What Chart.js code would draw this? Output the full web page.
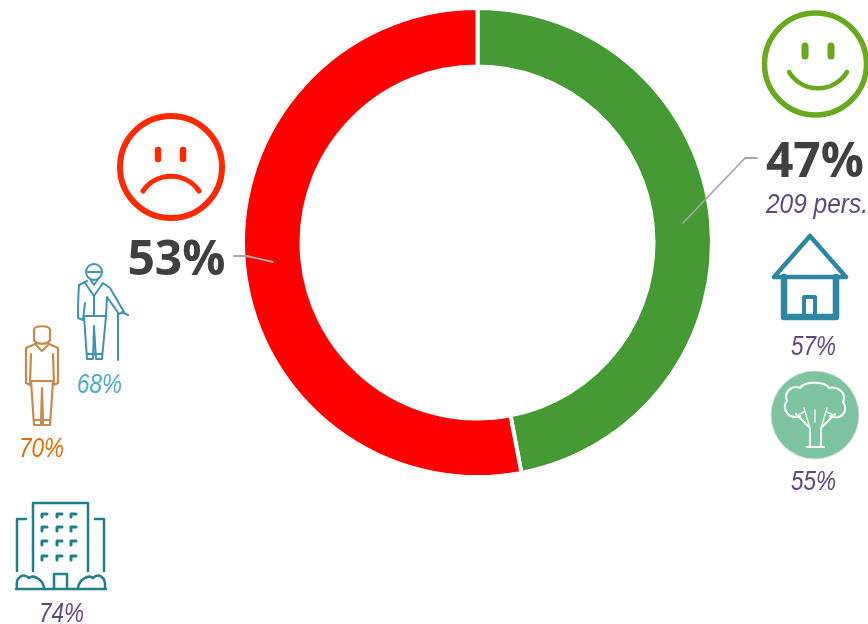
<!DOCTYPE html>
<html><head><meta charset="utf-8">
<style>
html,body{margin:0;padding:0;background:#fff;width:868px;height:624px;overflow:hidden}
#wrap{position:relative;width:868px;height:624px}
canvas{position:absolute;left:0;top:0}
svg{position:absolute;left:0;top:0}
.big{font:700 48px "Open Sans",sans-serif;fill:#404040}
.nar{font:italic 400 28px "Liberation Sans",sans-serif}
.soft{filter:blur(0.45px)}
</style>
<script src="https://cdn.jsdelivr.net/npm/chart.js@4"></script>
</head><body>
<div id="wrap">
<canvas id="c" width="868" height="624"></canvas>
<svg width="868" height="624" viewBox="0 0 868 624" fill="none" stroke-linecap="round" stroke-linejoin="round">
  <!-- leader lines -->
  <polyline points="683,223 745,158 757,158" stroke="#a6a6a6" stroke-width="1.8"/>
  <polyline points="234,256 247,256 273,262" stroke="#a6a6a6" stroke-width="1.8"/>
  <!-- sad -->
  <g stroke="#ff2a00">
    <circle cx="171" cy="167" r="51" stroke-width="6"/>
    <path d="M158 150V159M183 150V159" stroke-width="6.5"/>
    <path d="M143 191A34 34 0 0 1 199 191" stroke-width="5"/>
  </g>
  <!-- happy -->
  <g stroke="#6aa81e" class="soft">
    <circle cx="815.5" cy="64" r="51" stroke-width="5.5"/>
    <path d="M805 46V56M831 46V56" stroke-width="7"/>
    <path d="M789 72A34 34 0 0 0 847 72" stroke-width="4.5"/>
  </g>
  <!-- house -->
  <g stroke="#2e86a0" class="soft">
    <path d="M774 277L810 236L846 277Z" stroke-width="4.5"/>
    <path d="M784 277V317H836V277" stroke-width="6.5"/>
    <path d="M804 316V297H815V316" stroke-width="4"/>
  </g>
  <!-- tree -->
  <circle cx="815" cy="415" r="44" fill="#7fc4a0" stroke="#d8d8d8" stroke-width="1"/>
  <g stroke="#fff" stroke-width="2" class="soft">
    <path d="M800 416C788 420 781 408 787 401C783 391 793 385 800 388C804 381 825 381 829 388C838 386 847 393 843 402C849 410 842 421 830 416"/>
    <path d="M810 447V428L796 414M821 447V428L835 414M807 447H824" stroke-width="1.8"/>
    <path d="M810 428L804 408M821 428L827 408M815 410V422M804 412L796 416M827 412L835 416" stroke-width="1.6" stroke="#dfeee6"/>
  </g>
  <!-- building -->
  <g stroke="#1f8088" stroke-width="2.5" class="soft">
    <path d="M33 571V503H88V571"/>
    <path d="M17 571V519H26M104 571V519H95"/>
    <path d="M42 514V517M42 514H47M57 514V517M57 514H62M71 514V517M71 514H76M42 527V531M42 527H47M57 527V531M57 527H62M71 527V531M71 527H76M42 541V545M42 541H47M57 541V545M57 541H62M71 541V545M71 541H76M42 556V560M42 556H47M57 556V560M57 556H62M71 556V560M71 556H76" stroke-width="3"/>
    <path d="M16 589H106"/>
    <path d="M54 588V574H67V588"/>
    <path d="M17 588C15 576 24 573 29 578C34 574 43 580 44 588M78 588C79 580 88 574 93 578C98 573 106 576 105 588"/>
  </g>
  <!-- elderly person -->
  <g stroke="#3f93ad" stroke-width="2" class="soft">
    <circle cx="94" cy="272" r="8"/>
    <path d="M88 272H100M90 279L94 285L98 279"/>
    <path d="M87 281L79 285C78 297 78 308 78 318L83 320L85 303M85 283L94 296L103 283L110 288L124 312L119 314L107 297L106 316H84"/>
    <path d="M84 316L87 359H93L94 326L96 359H102L106 316"/>
    <path d="M94 296V316M118 314V360M122 312L128 315"/>
    <path d="M87 354H102"/>
  </g>
  <!-- adult person -->
  <g stroke="#c98a4f" stroke-width="2.2" class="soft">
    <path d="M34 330C34 325 50 325 50 330V340C48 345 36 345 34 340Z"/>
    <path d="M35 344L26 348V383L30 385L31 354M49 344L58 348V383L54 385L53 354"/>
    <path d="M35 344L42 351L49 344M31 381H53"/>
    <path d="M31 381L34 425H41L42 388L43 425H50L53 381"/>
    <path d="M34 420H50"/>
  </g>
  <!-- text -->
  <g id="labels" stroke="none"></g>
</svg>
</div>
<script>
const segmentLabels = ['Satisfied', 'Dissatisfied'];
const segmentShares = [47, 53];
const segmentColors = ['#459a35', '#ff0000'];
const sublabel = '209 pers.';
const groupLabels = ['57%', '55%', '68%', '70%', '74%'];
const groupX = [791, 791, 77, 19, 39];
const groupY = [355, 490, 393, 457, 622];
const groupColors = ['#5f497a', '#5f497a', '#4bacc6', '#e36c0a', '#5f497a'];

new Chart(document.getElementById('c'), {
  type: 'doughnut',
  data: { labels: segmentLabels, datasets: [{ data: segmentShares, backgroundColor: segmentColors, borderColor: '#fff', borderWidth: 4 }] },
  options: {
    responsive: false, animation: false, cutout: 176, rotation: 0,
    layout: { padding: { left: 241, right: 154, top: 6, bottom: 145 } },
    plugins: { legend: { display: false }, tooltip: { enabled: false } }
  }
});

const NS = 'http://www.w3.org/2000/svg';
const g = document.getElementById('labels');
function addText(str, x, y, cls, fill, anchor, len) {
  const t = document.createElementNS(NS, 'text');
  t.textContent = str;
  t.setAttribute('x', x); t.setAttribute('y', y);
  t.setAttribute('class', cls);
  if (fill) t.setAttribute('fill', fill);
  t.setAttribute('text-anchor', anchor);
  if (len) { t.setAttribute('textLength', len); t.setAttribute('lengthAdjust', 'spacingAndGlyphs'); }
  g.appendChild(t);
}
addText(segmentShares[0] + '%', 815, 177, 'big', null, 'middle');
addText(segmentShares[1] + '%', 176.5, 275, 'big', null, 'middle');
addText(sublabel, 766, 213, 'nar', '#5f497a', 'start', 102);
groupLabels.forEach((s, i) => addText(s, groupX[i], groupY[i], 'nar', groupColors[i], 'start', 45));
</script>
</body></html>
